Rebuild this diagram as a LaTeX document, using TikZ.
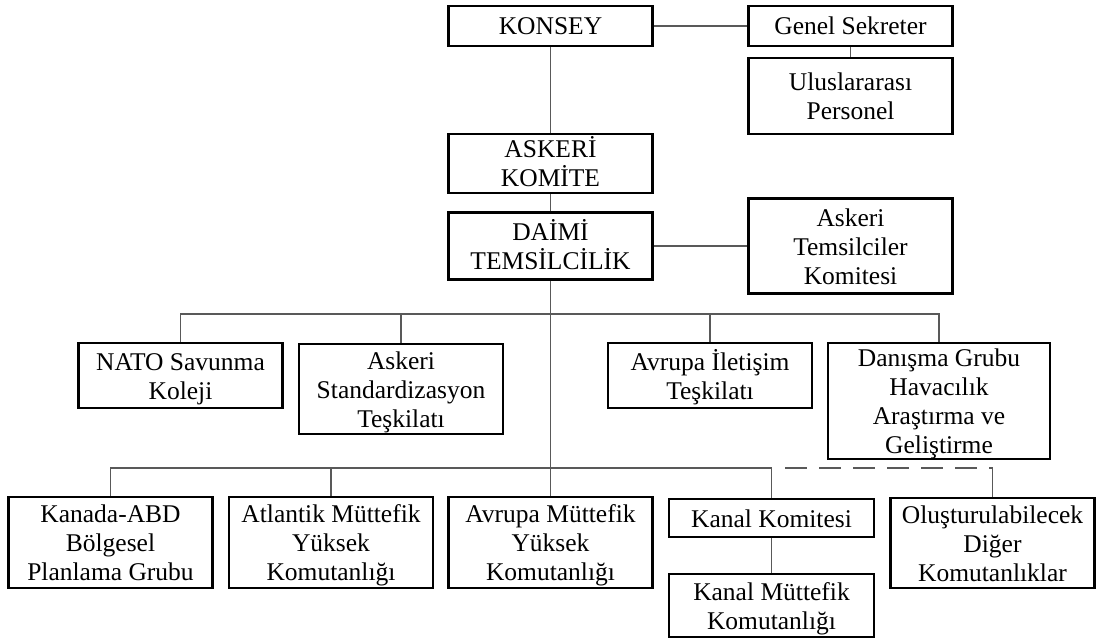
\documentclass[tikz,border=0pt]{standalone}
\usepackage{fontspec}
\usepackage{array}
\setmainfont{Liberation Serif}
\newcolumntype{C}{>{\rule[-5.5pt]{0pt}{29pt}}c}
\newcommand\boxtext[1]{\renewcommand\arraystretch{0}\begin{tabular}{@{}C@{}}#1\end{tabular}}
\begin{document}
\begin{tikzpicture}[x=1pt,y=-1pt,
  box/.style={draw=black, line width=2.7pt, rectangle, inner sep=0pt,
    font=\fontsize{25.5}{29}\selectfont, minimum width=204pt},
  conn/.style={draw=black!65, line width=1.3pt},
  dconn/.style={conn, dash pattern=on 22pt off 12pt}]
\useasboundingbox (0,0) rectangle (1097,639);
% top part
\node[box, minimum height=40pt] (konsey) at (550.5,26) {\boxtext{KONSEY}};
\node[box, minimum height=40pt] (genel) at (850.5,26) {\boxtext{Genel Sekreter}};
\node[box, minimum height=76pt] (ulus) at (850.5,96) {\boxtext{Uluslararası\\Personel}};
\node[box, minimum height=59pt] (askeri) at (550.5,163.5) {\boxtext{ASKERİ\\KOMİTE}};
\node[box, minimum height=67pt] (daimi) at (550.5,246) {\boxtext{DAİMİ\\TEMSİLCİLİK}};
\node[box, minimum height=95pt] (atk) at (850.5,246) {\boxtext{Askeri\\Temsilciler\\Komitesi}};
% middle row
\node[box, minimum height=65pt] (nato) at (180.5,375.5) {\boxtext{NATO Savunma\\Koleji}};
\node[box, minimum height=90pt] (ast) at (401,389) {\boxtext{Askeri\\Standardizasyon\\Teşkilatı}};
\node[box, minimum height=65pt] (avit) at (710,375.5) {\boxtext{Avrupa İletişim\\Teşkilatı}};
\node[box, minimum height=116pt, minimum width=222pt] (danisma) at (939,401) {\boxtext{Danışma Grubu\\Havacılık\\Araştırma ve\\Geliştirme}};
% bottom row
\node[box, minimum height=91pt] (kanada) at (110.5,542.5) {\boxtext{Kanada-ABD\\Bölgesel\\Planlama Grubu}};
\node[box, minimum height=91pt] (atlantik) at (331,542.5) {\boxtext{Atlantik Müttefik\\Yüksek\\Komutanlığı}};
\node[box, minimum height=91pt] (avrupam) at (550.5,542.5) {\boxtext{Avrupa Müttefik\\Yüksek\\Komutanlığı}};
\node[box, minimum height=38pt, minimum width=205pt] (kanalk) at (771.5,518) {\boxtext{Kanal Komitesi}};
\node[box, minimum height=63pt, minimum width=205pt] (kanalm) at (771.5,605.5) {\boxtext{Kanal Müttefik\\Komutanlığı}};
\node[box, minimum height=90pt] (olus) at (992.5,543) {\boxtext{Oluşturulabilecek\\Diğer\\Komutanlıklar}};
% bus coordinates
\coordinate (b1) at (550.5,314);
\coordinate (b2) at (550.5,468);
\coordinate (d1) at (785,468);
% connectors
\draw[conn] (konsey.east) -- (genel.west);
\draw[conn] (genel.south) -- (ulus.north);
\draw[conn] (konsey.south) -- (askeri.north);
\draw[conn] (askeri.south) -- (daimi.north);
\draw[conn] (daimi.east) -- (atk.west);
\draw[conn] (daimi.south) -- (avrupam.north);
\draw[conn] (nato.north) |- (b1) -| (danisma.north);
\draw[conn] (ast.north) |- (b1);
\draw[conn] (avit.north) |- (b1);
\draw[conn] (kanada.north) |- (b2) -| (kanalk.north);
\draw[conn] (atlantik.north) |- (b2);
\draw[conn] (kanalk.south) -- (kanalm.north);
\draw[dconn] (d1) -- (olus.north |- d1);
\draw[conn] (olus.north |- d1) -- (olus.north);
\end{tikzpicture}
\end{document}
